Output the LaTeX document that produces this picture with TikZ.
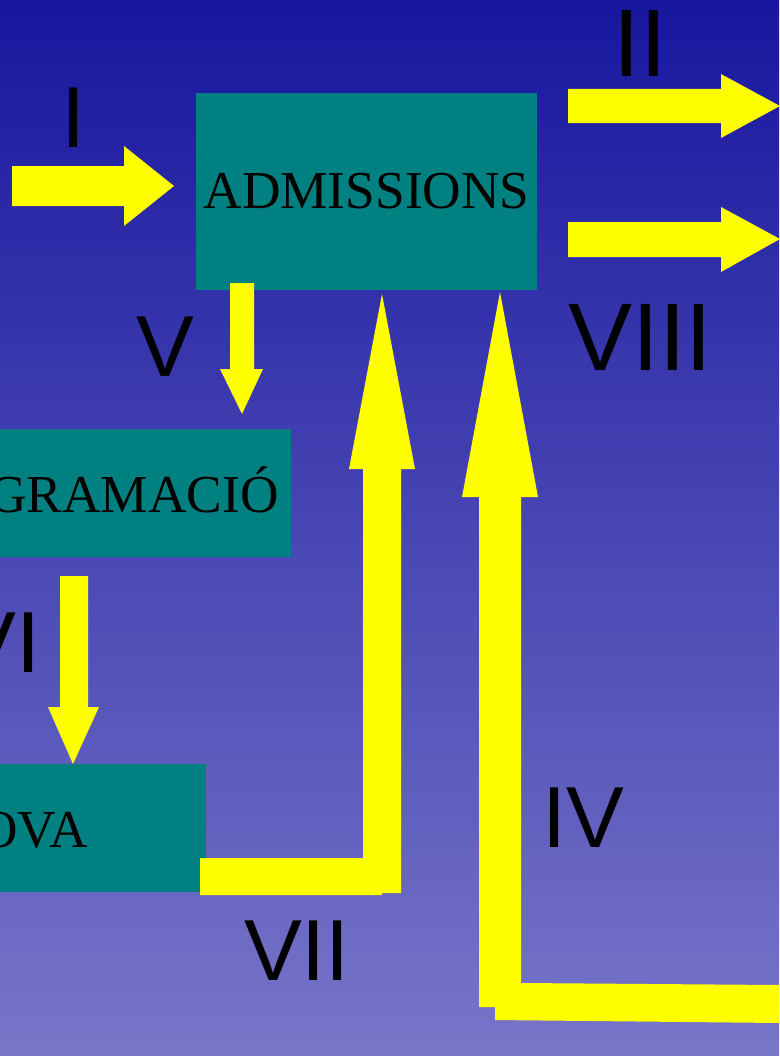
\documentclass[tikz,border=0pt]{standalone}
\usepackage{fontspec}
\setmainfont{Liberation Serif}
\newfontfamily\labfont{Liberation Sans}
\definecolor{bgtop}{RGB}{24,22,158}
\definecolor{bgbot}{RGB}{120,118,200}
\definecolor{boxteal}{RGB}{0,128,128}
\definecolor{arrowyellow}{RGB}{255,255,0}
\begin{document}
\begin{tikzpicture}[x=0.75pt,y=-0.75pt,
  box/.style={fill=boxteal, inner sep=0pt, font=\fontsize{40}{40}\selectfont, text=black},
  boxtext/.style={inner sep=0pt, anchor=base east, font=\fontsize{40}{40}\selectfont, text=black},
  lab/.style={font=\labfont\fontsize{65}{65}\selectfont, text=black, inner sep=0pt, anchor=base},
  biglab/.style={lab, font=\labfont\fontsize{72}{72}\selectfont},
  yarrow/.style={fill=arrowyellow}]
\useasboundingbox (0,0) rectangle (779,1056);
\clip (0,0) rectangle (779,1056);
\shade[top color=bgtop,bottom color=bgbot] (0,0) rectangle (779,1056);
% boxes
\node[box, minimum width=255.75pt, minimum height=147.75pt] (adm) at (366.5,191.5) {ADMISSIONS};
\node[box, minimum width=263.25pt, minimum height=96pt] (prog) at (115.5,493) {};
\node[boxtext] (progtxt) at (279,512) {GRAMACIÓ};
\node[box, minimum width=199.5pt, minimum height=96pt] (prova) at (73,828) {};
\node[boxtext] (provatxt) at (88,847) {OVA};
% arrows
\fill[yarrow] (12,166) -- (124,166) -- (124,146) -- (174,186) -- (124,226) -- (124,206) -- (12,206) -- cycle;
\fill[yarrow] (568,89) -- (721,89) -- (721,74) -- (780,106) -- (721,138) -- (721,123) -- (568,123) -- cycle;
\fill[yarrow] (568,222) -- (721,222) -- (721,207) -- (780,239) -- (721,272) -- (721,257) -- (568,257) -- cycle;
\fill[yarrow] (230,283) -- (254,283) -- (254,369) -- (263,369) -- (242,414) -- (220,369) -- (230,369) -- cycle;
\fill[yarrow] (60,576) -- (88,576) -- (88,707) -- (99,707) -- (73,764) -- (48,707) -- (60,707) -- cycle;
\fill[yarrow] (200,858) -- (363,858) -- (363,469) -- (349,469) -- (382,294) -- (415,469) -- (401,469) -- (401,893) -- (382,893) -- (382,895) -- (200,895) -- cycle;
\fill[yarrow] (479,1007) -- (479,497) -- (462,497) -- (500,292) -- (538,497) -- (521,497) -- (521,983) -- (780,985) -- (780,1023) -- (495,1020) -- (495,1007) -- cycle;
% labels
\node[lab] (l1) at (74,147) {I};
\node[biglab] (l2) at (640.5,76) {II};
\node[biglab] (l8) at (640.5,370) {VIII};
\node[lab] (l5) at (165.5,376) {V};
\node[lab, anchor=base east] (l6) at (41,672) {VI};
\node[lab] (l4) at (583,847) {IV};
\node[lab] (l7) at (297,980) {VII};
\end{tikzpicture}
\end{document}
